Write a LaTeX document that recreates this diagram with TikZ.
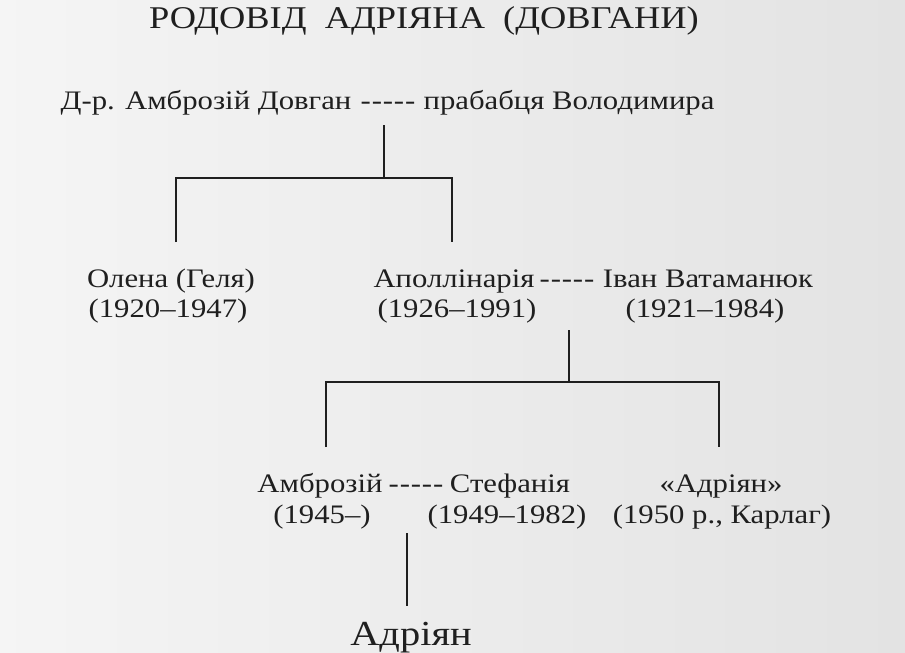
\documentclass[tikz,border=0pt]{standalone}
\usepackage{fontspec}
\setmainfont{Liberation Serif}[FakeStretch=1.15]
\usepackage{xcolor}
\usepackage{tikz}

\definecolor{paper}{gray}{0.89}
\definecolor{paperlight}{gray}{0.96}
\definecolor{ink}{gray}{0.12}
\newcommand\wed{-\kern.6pt-\kern.6pt-\kern.6pt-\kern.6pt-}
\tikzset{
  person/.style={anchor=base,inner sep=0pt,text=ink,font=\fontsize{19}{22}\selectfont},
  headline/.style={person,font=\fontsize{22.5}{26}\selectfont},
  heir/.style={person,font=\fontsize{25}{29}\selectfont},
  branch/.style={draw=ink,line width=1.3pt}
}

\begin{document}
\begin{tikzpicture}[x=.025cm,y=-.025cm]
    \shade[left color=paperlight,right color=paper] (0,0) rectangle (905,652);
    \node[headline] (title) at (424,29) {РОДОВІД\ \ АДРІЯНА\ \ (ДОВГАНИ)};
    % first generation
    \node[person] (dovhan) at (206,109) {Д-р. Амброзій Довган};
    \node[person] (wed1) at (388,109) {\wed};
    \node[person] (volodymyra) at (569,109) {прабабця Володимира};
    % second generation
    \node[person] (olena) at (171,287) {Олена (Геля)};
    \node[person] (olenay) at (168,317) {(1920–1947)};
    \node[person] (apol) at (454,287) {Аполлінарія};
    \node[person] (wed2) at (567,287) {\wed};
    \node[person] (ivan) at (708,287) {Іван Ватаманюк};
    \node[person] (apoly) at (457,317) {(1926–1991)};
    \node[person] (ivany) at (705,317) {(1921–1984)};
    % third generation
    \node[person] (ambroz) at (320,492) {Амброзій};
    \node[person] (wed3) at (416,492) {\wed};
    \node[person] (stefania) at (510,492) {Стефанія};
    \node[person] (adrq) at (721,492) {«Адріян»};
    \node[person] (ambrozy) at (322,523) {(1945–)};
    \node[person] (stefaniay) at (507,523) {(1949–1982)};
    \node[person] (adrqy) at (722,523) {(1950 р., Карлаг)};
    \node[heir] (adrian) at (411,645) {Адріян};
    % connectors
    \coordinate (top1) at (384,125);
    \coordinate (fork1) at (384,178);
    \coordinate (leg1a) at (176,242);
    \coordinate (leg1b) at (452,242);
    \coordinate (top2) at (569,330);
    \coordinate (fork2) at (569,382);
    \coordinate (leg2a) at (326,447);
    \coordinate (leg2b) at (719,447);
    \coordinate (top3) at (407,533);
    \coordinate (leg3) at (407,606);
    \begin{scope}[branch]
      \draw (top1) -- (fork1);
      \draw (leg1a) |- (fork1) -| (leg1b);
      \draw (top2) -- (fork2);
      \draw (leg2a) |- (fork2) -| (leg2b);
      \draw (top3) -- (leg3);
    \end{scope}
\end{tikzpicture}
\end{document}
